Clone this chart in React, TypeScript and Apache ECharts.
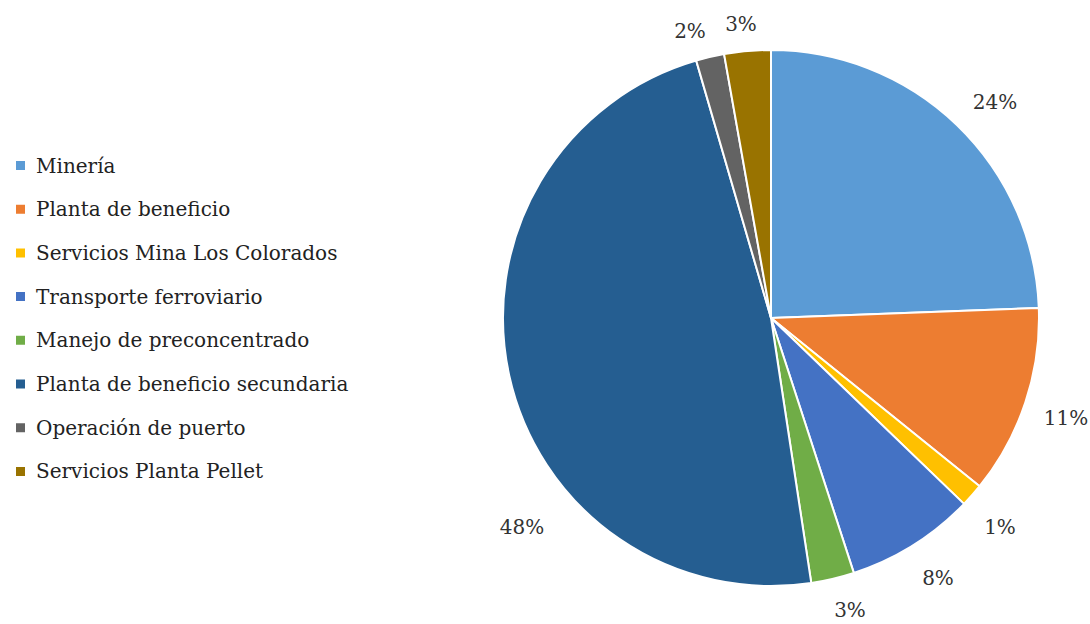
import React, { useEffect, useRef } from "react";
import * as echarts from "echarts";

const categories = [
  "Minería",
  "Planta de beneficio",
  "Servicios Mina Los Colorados",
  "Transporte ferroviario",
  "Manejo de preconcentrado",
  "Planta de beneficio secundaria",
  "Operación de puerto",
  "Servicios Planta Pellet",
];
const shares = [24.4, 11.4, 1.4, 7.8, 2.6, 47.9, 1.7, 2.8];
const colors = ["#5b9bd5", "#ed7d31", "#ffc000", "#4472c4", "#70ad47", "#255e91", "#636363", "#997300"];

// label anchor positions (px) following the reference's best-fit placement
const labelPos: [number, number][] = [
  [995, 102],
  [1066, 418],
  [1000, 527],
  [938, 578],
  [850, 610],
  [522, 527],
  [690, 31],
  [741, 24],
];

const FONT = "DejaVu Serif";

export default function App() {
  const ref = useRef<HTMLDivElement>(null);
  useEffect(() => {
    if (!ref.current) return;
    const chart = echarts.init(ref.current, undefined, { renderer: "svg" });
    chart.setOption({
      animation: false,
      backgroundColor: "#ffffff",
      legend: {
        orient: "vertical",
        left: 14,
        top: 155,
        padding: 0,
        icon: "rect",
        itemWidth: 11,
        itemHeight: 11,
        itemGap: 22.7,
        textStyle: { fontFamily: FONT, fontSize: 20, color: "#222", lineHeight: 21, padding: [0, 0, 0, 5] },
        data: categories,
      },
      series: [
        {
          type: "pie",
          center: [771, 318],
          radius: 268,
          startAngle: 90,
          clockwise: true,
          avoidLabelOverlap: false,
          itemStyle: { borderColor: "#ffffff", borderWidth: 2 },
          label: {
            show: true,
            position: "outside",
            fontFamily: FONT,
            fontSize: 20,
            color: "#333",
            overflow: "none",
            formatter: (p: any) => Math.round(p.value) + "%",
          },
          labelLine: { show: false },
          labelLayout: (p: any) => ({
            x: labelPos[p.dataIndex][0],
            y: labelPos[p.dataIndex][1],
            align: "center",
            verticalAlign: "middle",
          }),
          data: categories.map((c, i) => ({ name: c, value: shares[i], itemStyle: { color: colors[i] } })),
        },
      ],
    });
    return () => chart.dispose();
  }, []);
  return <div ref={ref} style={{ width: 1090, height: 624, position: "absolute", left: 0, top: 0 }} />;
}
